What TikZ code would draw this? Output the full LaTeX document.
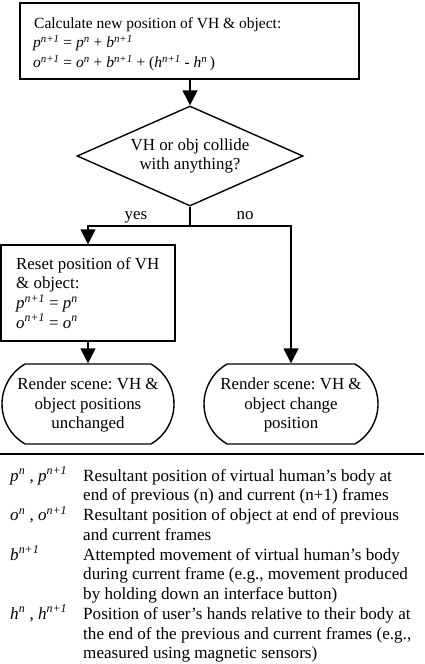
\documentclass[tikz,border=0pt]{standalone}
\usepackage{fontspec}
\setmainfont{Liberation Serif}
\usetikzlibrary{shapes.geometric,shapes.misc,arrows.meta}
\newcommand\vr[2]{\textit{#1}\textsuperscript{\textit{#2}}}
\frenchspacing
\begin{document}
\begin{tikzpicture}[x=1pt,y=-1pt,
  every node/.style={font=\fontsize{16.9}{19.75}\selectfont\frenchspacing, inner sep=0},
  txt/.style={anchor=base west},
  toptxt/.style={anchor=base west, font=\fontsize{15.5}{19.75}\selectfont\frenchspacing},
  legtxt/.style={anchor=base west, font=\fontsize{17.1}{19.75}\selectfont\frenchspacing},
  ctxt/.style={anchor=base},
  boxn/.style={draw, line width=1.4pt, rectangle},
  rend/.style={draw, line width=1.4pt, rounded rectangle, rounded rectangle arc length=120},
  dec/.style={draw, line width=1.4pt, diamond, aspect=2.26},
  conn/.style={line width=1.4pt},
  arr/.style={conn, -{Triangle[length=15pt,width=15pt]}},
]
\useasboundingbox (0,0) rectangle (424,664);

% top box
\node[boxn, minimum width=339, minimum height=76] (calc) at (189.5,41) {};
\node[toptxt] (c1) at (34,28) {Calculate new position of VH \& object:};
\node[toptxt] (c2) at (33,47.7) {\vr{p}{n+1} = \vr{p}{n} + \vr{b}{n+1}};
\node[toptxt] (c3) at (33,67.5) {\vr{o}{n+1} = \vr{o}{n} + \vr{b}{n+1} + (\vr{h}{n+1} - \vr{h}{n}\,)};

% decision
\node[dec, minimum width=226, minimum height=100, align=center] (q) at (190,156) {VH or obj collide\\with anything?};
\draw[arr] (calc.south -| q.north) -- (q.north);

% reset box
\node[boxn, minimum width=174, minimum height=96] (reset) at (88,293) {};
\node[txt] (r1) at (16,269) {Reset position of VH};
\node[txt] (r2) at (16,288.75) {\& object:};
\node[txt] (r3) at (16,308.5) {\vr{p}{n+1} = \vr{p}{n}};
\node[txt] (r4) at (16,328.25) {\vr{o}{n+1} = \vr{o}{n}};

% render nodes
\node[rend, minimum width=172, minimum height=80] (rendL) at (88,404) {};
\node[align=center] (rendLt) at (88,405) {Render scene: VH \&\\object positions\\unchanged};
\node[rend, minimum width=174, minimum height=80] (rendR) at (291,404) {};
\node[align=center] (rendRt) at (291,405) {Render scene: VH \&\\object change\\position};

% branches
\coordinate (split) at (190,226);
\coordinate (lt) at (88,226);
\coordinate (rt) at (291,226);
\draw[conn] (q.south) -- (split);
\draw[arr] (split) -- (lt) -- (reset.north);
\draw[arr] (split) -- (rt) -- (rendR.north);
\draw[arr] (reset.south) -- (rendL.north);
\node[ctxt] (yes) at (136,219) {yes};
\node[ctxt] (no) at (245,219) {no};

% separator
\coordinate (sl) at (0,454);
\coordinate (sr) at (424,454);
\draw[line width=1.8pt] (sl) -- (sr);

% legend
\node[legtxt] (s1) at (10,481) {\vr{p}{n} , \vr{p}{n+1}};
\node[legtxt] (s2) at (10,520.5) {\vr{o}{n} , \vr{o}{n+1}};
\node[legtxt] (s3) at (10,560) {\vr{b}{n+1}};
\node[legtxt] (s4) at (10,619.25) {\vr{h}{n} , \vr{h}{n+1}};
\foreach \t [count=\i from 0] in {
  {Resultant position of virtual human’s body at},
  {end of previous (n) and current (n+1) frames},
  {Resultant position of object at end of previous},
  {and current frames},
  {Attempted movement of virtual human’s body},
  {during current frame (e.g., movement produced},
  {by holding down an interface button)},
  {Position of user’s hands relative to their body at},
  {the end of the previous and current frames (e.g.,},
  {measured using magnetic sensors)}}
  \node[legtxt] (d\i) at (83,481+19.75*\i) {\t};
\end{tikzpicture}
\end{document}
